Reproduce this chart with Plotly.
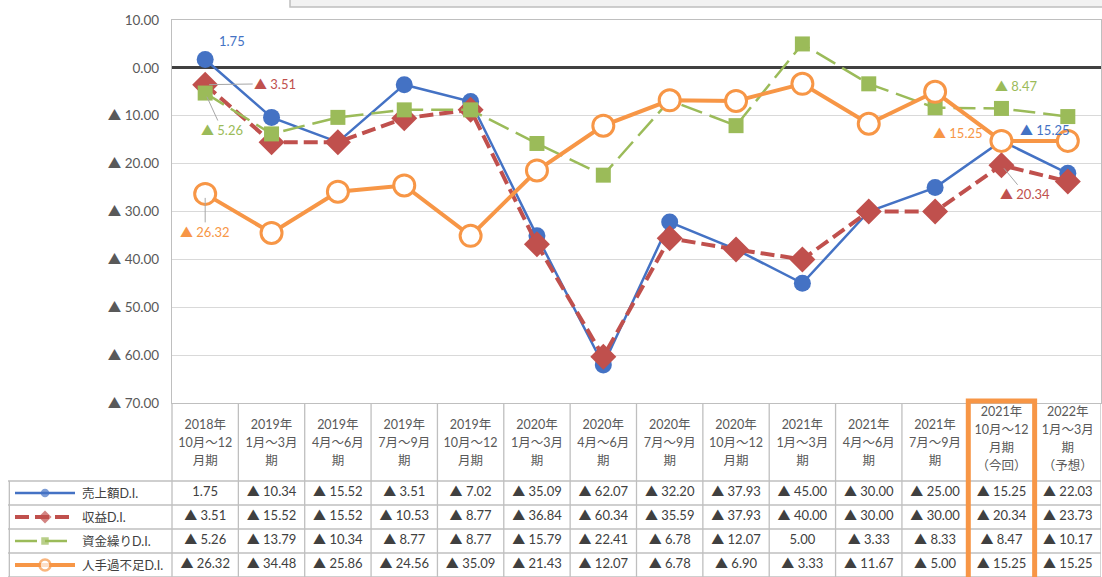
import plotly.graph_objects as go

# ---------------- data ----------------
periods = [
    ["2018年", "10月～12", "月期"],
    ["2019年", "1月～3月", "期"],
    ["2019年", "4月～6月", "期"],
    ["2019年", "7月～9月", "期"],
    ["2019年", "10月～12", "月期"],
    ["2020年", "1月～3月", "期"],
    ["2020年", "4月～6月", "期"],
    ["2020年", "7月～9月", "期"],
    ["2020年", "10月～12", "月期"],
    ["2021年", "1月～3月", "期"],
    ["2021年", "4月～6月", "期"],
    ["2021年", "7月～9月", "期"],
    ["2021年", "10月～12", "月期", "（今回）"],
    ["2022年", "1月～3月", "期", "（予想）"],
]
series_names = ["売上額D.I.", "収益D.I.", "資金繰りD.I.", "人手過不足D.I."]
sales = [1.75, -10.34, -15.52, -3.51, -7.02, -35.09, -62.07, -32.20, -37.93, -45.00, -30.00, -25.00, -15.25, -22.03]
profit = [-3.51, -15.52, -15.52, -10.53, -8.77, -36.84, -60.34, -35.59, -37.93, -40.00, -30.00, -30.00, -20.34, -23.73]
cash = [-5.26, -13.79, -10.34, -8.77, -8.77, -15.79, -22.41, -6.78, -12.07, 5.00, -3.33, -8.33, -8.47, -10.17]
labor = [-26.32, -34.48, -25.86, -24.56, -35.09, -21.43, -12.07, -6.78, -6.90, -3.33, -11.67, -5.00, -15.25, -15.25]
y_ticks = [10, 0, -10, -20, -30, -40, -50, -60, -70]
current_index = 12

# ---------------- styling ----------------
W, H = 1102, 577
FONT = "Lato, Noto Sans CJK JP, sans-serif"
BLUE, RED, GREEN, ORANGE = "#4472C4", "#C0504D", "#9BBB59", "#F79646"
GRID = "#d9d9d9"
BORDER = "#bfbfbf"
TXT = "#404040"

PLOT_L, PLOT_R, PLOT_T, PLOT_B = 172, 1101, 20, 403
TABLE_L = 8
n = len(periods)
colw = (PLOT_R - PLOT_L) / n
x2_left = -0.5 - (PLOT_L - TABLE_L) / colw
HEADER_H = 78
ROW_H = 24
TABLE_H = HEADER_H + ROW_H * 4
HEADER_LINE = 18


def fmt(v):
    return f"{v:.2f}" if v >= 0 else f"▲ {abs(v):.2f}"


def px2x(px):
    return x2_left + (px - TABLE_L) / colw


xs = list(range(n))
all_series = [sales, profit, cash, labor]

styles = [
    dict(line=dict(color=BLUE, width=2.5),
         marker=dict(symbol="circle", size=17, color=BLUE, line=dict(width=0))),
    dict(line=dict(color=RED, width=4, dash="14px,6px"),
         marker=dict(symbol="diamond", size=20, color=RED, line=dict(width=0))),
    dict(line=dict(color=GREEN, width=2.5, dash="22px,8px"),
         marker=dict(symbol="square", size=15, color=GREEN, line=dict(width=0))),
    dict(line=dict(color=ORANGE, width=4),
         marker=dict(symbol="circle", size=21, color="white", line=dict(color=ORANGE, width=3))),
]
colors = [BLUE, RED, GREEN, ORANGE]

fig = go.Figure()

for name, vals, st in zip(series_names, all_series, styles):
    fig.add_trace(go.Scatter(x=xs, y=vals, mode="lines+markers", name=name,
                             line=st["line"], marker=st["marker"],
                             xaxis="x", yaxis="y", showlegend=False, hoverinfo="skip"))

# ---------------- table (second axes) ----------------
row_centers = [HEADER_H + ROW_H * (k + 0.5) for k in range(4)]

shapes = []
for k in range(n + 1):
    shapes.append(dict(type="line", xref="x2", yref="y2", x0=-0.5 + k, x1=-0.5 + k,
                       y0=0, y1=TABLE_H, line=dict(color=BORDER, width=1.3)))
shapes.append(dict(type="line", xref="x2", yref="y2", x0=x2_left + 0.02, x1=x2_left + 0.02,
                   y0=HEADER_H, y1=TABLE_H, line=dict(color=BORDER, width=1.3)))
for k in range(5):
    yy = HEADER_H + ROW_H * k
    shapes.append(dict(type="line", xref="x2", yref="y2", x0=x2_left, x1=n - 0.5,
                       y0=yy, y1=yy, line=dict(color=BORDER, width=1.3)))
shapes.append(dict(type="rect", xref="x2", yref="y2", x0=current_index - 0.5, x1=current_index + 0.5,
                   y0=-2, y1=TABLE_H + 10, line=dict(color=ORANGE, width=5), fillcolor="rgba(0,0,0,0)"))
shapes.append(dict(type="rect", xref="paper", yref="paper", x0=290 / W, x1=1.02,
                   y0=1 - 7 / H, y1=1.02, line=dict(color=BORDER, width=1.5), fillcolor="#f2f2f2",
                   layer="below"))

# header text, one trace per line
max_lines = max(len(p) for p in periods)
for li in range(max_lines):
    hx, hy, ht = [], [], []
    for i, p in enumerate(periods):
        if li < len(p):
            nl = len(p)
            hx.append(i)
            hy.append(HEADER_H / 2 + 2 + (li - (nl - 1) / 2) * HEADER_LINE - (4 if nl == 4 else 0))
            ht.append(p[li])
    fig.add_trace(go.Scatter(x=hx, y=hy, mode="text", text=ht,
                             textfont=dict(family=FONT, size=12.5, color="#595959"),
                             xaxis="x2", yaxis="y2", showlegend=False, hoverinfo="skip"))

# values
for vals, yc in zip(all_series, row_centers):
    fig.add_trace(go.Scatter(
        x=xs, y=[yc] * n, mode="text", text=[fmt(v) for v in vals],
        textfont=dict(family=FONT, size=13, color=TXT),
        xaxis="x2", yaxis="y2", showlegend=False, hoverinfo="skip"))

# legend samples
annotations = []
for name, st, yc in zip(series_names, styles, row_centers):
    lx = [px2x(15), px2x(45), px2x(75)]
    mk = dict(st["marker"])
    mk["size"] = [0, max(7, st["marker"]["size"] * 0.5), 0]
    if st["marker"]["color"] == "white":
        mk["line"] = dict(color=ORANGE, width=2.5)
        mk["size"] = [0, 11, 0]
    fig.add_trace(go.Scatter(x=lx, y=[yc] * 3, mode="lines+markers", line=st["line"], marker=mk,
                             xaxis="x2", yaxis="y2", showlegend=False, hoverinfo="skip"))
    annotations.append(dict(x=px2x(80), y=yc, xref="x2", yref="y2", text=name, showarrow=False,
                            xanchor="left", yanchor="middle",
                            font=dict(family=FONT, size=12.5, color=TXT)))

# ---------------- data labels ----------------
label_spec = [
    (0, 0, 27, -19, False),
    (1, 0, 70, -1, True),
    (2, 0, 17, 37, True),
    (3, 0, 0, 38, True),
    (2, 12, 15, -22, False),
    (3, 12, -43, -8, False),
    (0, 12, 44, -11, False),
    (1, 12, 24, 29, True),
]
for si, pi, dx, dy, leader in label_spec:
    v = all_series[si][pi]
    txt = fmt(v)
    if leader:
        annotations.append(dict(x=pi, y=v, xref="x", yref="y", text=txt, showarrow=True,
                                arrowhead=0, arrowwidth=1, arrowcolor="#a6a6a6", ax=dx, ay=dy,
                                standoff=4, font=dict(family=FONT, size=13, color=colors[si])))
    else:
        annotations.append(dict(x=pi, y=v, xref="x", yref="y", text=txt, showarrow=False,
                                xshift=dx, yshift=-dy,
                                font=dict(family=FONT, size=13, color=colors[si])))

fig.update_layout(
    width=W, height=H,
    margin=dict(l=0, r=0, t=0, b=0, autoexpand=False),
    paper_bgcolor="white", plot_bgcolor="rgba(0,0,0,0)",
    font=dict(family=FONT, color=TXT),
    xaxis=dict(domain=[PLOT_L / W, PLOT_R / W], range=[-0.5, n - 0.5], showticklabels=False,
               showgrid=False, zeroline=False, showline=True, mirror=True, linecolor=BORDER,
               linewidth=1.3, anchor="y", fixedrange=True, automargin=False),
    yaxis=dict(domain=[1 - PLOT_B / H, 1 - PLOT_T / H], range=[y_ticks[-1], y_ticks[0]],
               tickvals=y_ticks, ticktext=[fmt(t) for t in y_ticks],
               tickfont=dict(family=FONT, size=13.5, color="#595959"),
               showgrid=True, gridcolor=GRID, gridwidth=1.3,
               zeroline=True, zerolinecolor="#404040", zerolinewidth=2.5,
               showline=True, mirror=True, linecolor=BORDER, linewidth=1.3,
               ticks="outside", ticklen=9, tickcolor="rgba(0,0,0,0)",
               anchor="x", fixedrange=True, automargin=False, ticklabeloverflow="allow"),
    xaxis2=dict(domain=[TABLE_L / W, PLOT_R / W], range=[x2_left, n - 0.5], visible=False,
                anchor="y2", fixedrange=True, automargin=False),
    yaxis2=dict(domain=[0, (H - PLOT_B + 5) / H], range=[TABLE_H, -5], visible=False,
                anchor="x2", fixedrange=True, automargin=False),
    shapes=shapes,
    annotations=annotations,
)

fig.write_html("out.html")
